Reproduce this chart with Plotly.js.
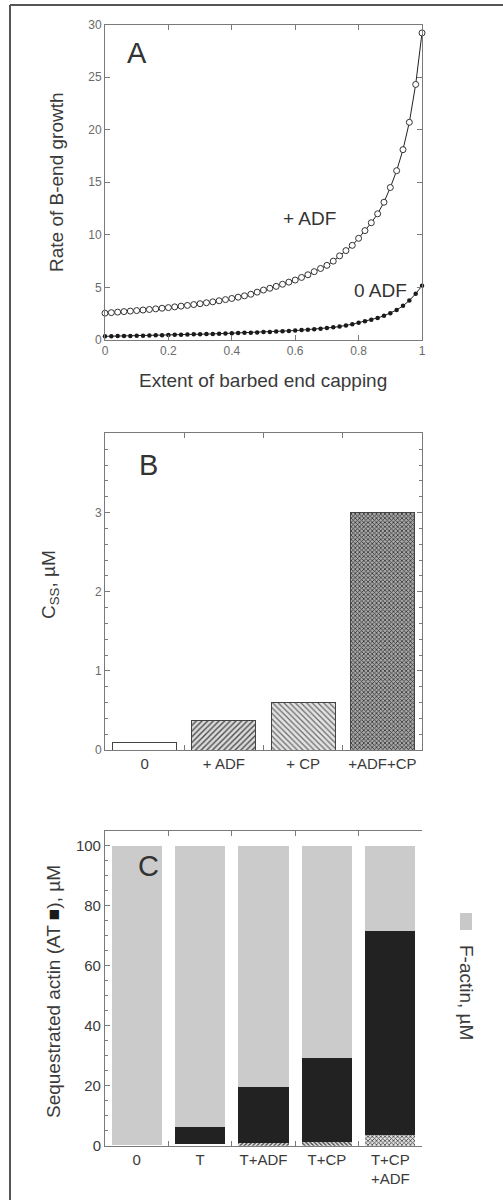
<!DOCTYPE html>
<html>
<head>
<meta charset="utf-8">
<script src="https://cdn.plot.ly/plotly-3.0.1.min.js"></script>
<style>html,body{margin:0;padding:0;background:#fff;}#chart{width:503px;height:1200px;}</style>
</head>
<body>
<div id="chart"></div>
<script>
// ---------- Panel A data ----------
const cappingExtent = [0,0.02,0.04,0.06,0.08,0.10,0.12,0.14,0.16,0.18,0.20,0.22,0.24,0.26,0.28,0.30,0.32,0.34,0.36,0.38,0.40,0.42,0.44,0.46,0.48,0.50,0.52,0.54,0.56,0.58,0.60,0.62,0.64,0.66,0.68,0.70,0.72,0.74,0.76,0.78,0.80,0.82,0.84,0.86,0.88,0.90,0.92,0.94,0.96,0.98,1.00];
const rateWithADF = [2.55,2.6,2.65,2.7,2.75,2.8,2.85,2.9,2.96,3.02,3.08,3.15,3.22,3.29,3.37,3.45,3.54,3.63,3.73,3.84,3.95,4.07,4.2,4.35,4.55,4.75,4.92,5.1,5.3,5.5,5.7,5.95,6.2,6.5,6.8,7.1,7.5,8.0,8.5,9.0,9.67,10.4,11.15,12.0,13.1,14.5,16.1,18.1,20.7,24.3,29.2];
const rateNoADF = [0.35,0.36,0.37,0.38,0.39,0.4,0.41,0.43,0.44,0.46,0.48,0.49,0.51,0.52,0.54,0.55,0.57,0.58,0.6,0.62,0.64,0.66,0.68,0.7,0.72,0.75,0.77,0.8,0.83,0.86,0.9,0.94,0.98,1.03,1.08,1.14,1.2,1.28,1.37,1.5,1.65,1.78,1.92,2.1,2.3,2.55,2.85,3.25,3.75,4.4,5.15];
const xTicksA = [0,0.2,0.4,0.6,0.8,1];
const xTickTextA = ['0','0.2','0.4','0.6','0.8','1'];
const yTicksA = [0,5,10,15,20,25,30];

// ---------- Panel B data ----------
const condB = ['0','+ ADF','+ CP','+ADF+CP'];
const cssB = [0.1,0.37,0.6,3.0];
const yTicksB = [0,1,2,3];

// ---------- Panel C data ----------
const condC = ['0','T','T+ADF','T+CP','T+CP<br>+ADF'];
const monomerC = [0.1,0.5,0.9,1.4,3.6];
const sequestC = [0,5.6,18.6,27.9,68.1];
const factinC = [99.9,93.9,80.5,70.7,28.3];
const yTicksC = [0,20,40,60,80,100];

const FONT = 'Liberation Sans, Arial, Helvetica, sans-serif';
const AXC = '#7a7a7a';
const XD = [0.2087, 0.8390];

const bStyles = [
  {shape:'',  fg:'#444', bg:'#ffffff', size:8, sol:0.3},
  {shape:'/', fg:'#4a4a4a', bg:'#dcdcdc', size:4, sol:0.35},
  {shape:'\\', fg:'#6a6a6a', bg:'#e4e4e4', size:4, sol:0.32},
  {shape:'x', fg:'#333', bg:'#a8a8a8', size:3, sol:0.45}
];

const traces = [
  {x: cappingExtent, y: rateWithADF, type:'scatter', mode:'lines+markers', xaxis:'x', yaxis:'y',
   line:{color:'#222', width:1}, marker:{symbol:'circle', size:6, color:'#fff', line:{color:'#333', width:1}},
   cliponaxis:false, showlegend:false, name:'+ ADF'},
  {x: cappingExtent, y: rateNoADF, type:'scatter', mode:'lines+markers', xaxis:'x', yaxis:'y',
   line:{color:'#222', width:1}, marker:{symbol:'circle', size:4.5, color:'#1a1a1a'},
   cliponaxis:false, showlegend:false, name:'0 ADF'}
];
condB.forEach((c, i) => {
  const s = bStyles[i];
  const mk = {color:'#ffffff', line:{color:'#444', width:1}};
  if (s.shape) mk.pattern = {shape:s.shape, fgcolor:s.fg, bgcolor:s.bg, size:s.size, solidity:s.sol};
  traces.push({x:[c], y:[cssB[i]], type:'bar', xaxis:'x2', yaxis:'y2', width:0.81, showlegend:false, name:c, marker:mk});
});
traces.push(
  {x: condC, y: monomerC, type:'bar', xaxis:'x3', yaxis:'y3', width:0.79, showlegend:false, name:'monomer',
   marker:{color:'#ffffff', line:{width:0},
     pattern:{shape:['','','/','\\','x'], fgcolor:'#444', bgcolor:'#e0e0e0', size:3, solidity:0.45}}},
  {x: condC, y: sequestC, type:'bar', xaxis:'x3', yaxis:'y3', width:0.79, showlegend:false, name:'sequestrated',
   marker:{color:'#222222', line:{width:0}}},
  {x: condC, y: factinC, type:'bar', xaxis:'x3', yaxis:'y3', width:0.79, showlegend:false, name:'F-actin',
   marker:{color:'#cbcbcb', line:{width:0}}}
);

function axBase(extra){
  return Object.assign({showline:true, linecolor:AXC, linewidth:1, ticks:'inside', ticklen:5,
    tickcolor:AXC, tickwidth:1, showgrid:false, zeroline:false, fixedrange:true,
    tickfont:{family:FONT, size:12, color:'#6a6a6a'}}, extra);
}

const layout = {
  width:503, height:1200, margin:{l:0,r:0,t:0,b:0}, paper_bgcolor:'#fff', plot_bgcolor:'rgba(0,0,0,0)',
  barmode:'stack', bargap:0.2, font:{family:FONT, color:'#333'},
  xaxis: axBase({domain:XD, anchor:'y', range:[0,1], tickvals:xTicksA, ticktext:xTickTextA, mirror:'ticks'}),
  yaxis: axBase({domain:[0.71667,0.97958], anchor:'x', range:[0,30], tickvals:yTicksA, mirror:'ticks'}),
  xaxis2: axBase({domain:XD, anchor:'y2', type:'category', categoryarray:condB, categoryorder:'array', range:[-0.5,3.5], tickson:'boundaries', mirror:'ticks',
    tickfont:{family:FONT, size:15, color:'#3a3a3a'}}),
  yaxis2: axBase({domain:[0.375,0.63889], anchor:'x2', range:[0,4], tickvals:yTicksB, mirror:'ticks',
    minor:{tickvals:[0.2,0.4,0.6,0.8,1.2,1.4,1.6,1.8,2.2,2.4,2.6,2.8,3.2,3.4,3.6,3.8], ticks:'inside', ticklen:3, tickcolor:AXC}}),
  xaxis3: axBase({domain:XD, anchor:'y3', type:'category', range:[-0.5,4.5], tickson:'boundaries', mirror:'ticks',
    tickfont:{family:FONT, size:15, color:'#3a3a3a'}}),
  yaxis3: axBase({domain:[0.04525,0.3075], anchor:'x3', range:[0,105], tickvals:yTicksC,
    tickfont:{family:FONT, size:15, color:'#3a3a3a'},
    minor:{dtick:5, ticks:'inside', ticklen:3, tickcolor:AXC}}),
  yaxis4: axBase({domain:[0.04525,0.3075], anchor:'x3', overlaying:'y3', side:'right', range:[0,105], tickvals:yTicksC,
    tickfont:{family:FONT, size:15, color:'#3a3a3a'},
    minor:{dtick:5, ticks:'inside', ticklen:3, tickcolor:AXC}}),
  shapes:[
    {type:'line', xref:'paper', yref:'paper', x0:10/503, x1:1, y0:1-5/1200, y1:1-5/1200, line:{color:'#555', width:2}},
    {type:'line', xref:'paper', yref:'paper', x0:10/503, x1:10/503, y0:0, y1:1-5/1200, line:{color:'#555', width:2}},
    {type:'rect', xref:'paper', yref:'paper', x0:460/503, x1:472/503, y0:1-930/1200, y1:1-913/1200, line:{width:0}, fillcolor:'#c8c8c8'}
  ],
  annotations:[
    {text:'A', xref:'x', yref:'y', x:0.102, y:27.3, showarrow:false, font:{family:FONT, size:29, color:'#333'}},
    {text:'+ ADF', xref:'x', yref:'y', x:0.646, y:11.6, showarrow:false, font:{family:FONT, size:19, color:'#333'}},
    {text:'0 ADF', xref:'x', yref:'y', x:0.868, y:4.75, showarrow:false, font:{family:FONT, size:19, color:'#333'}},
    {text:'Rate of B-end growth', xref:'paper', yref:'paper', x:57/503, y:1-182/1200, textangle:-90, showarrow:false,
     xanchor:'center', yanchor:'middle', font:{family:FONT, size:19, color:'#3a3a3a'}},
    {text:'Extent of barbed end capping', xref:'paper', yref:'paper', x:263/503, y:1-380/1200, showarrow:false,
     xanchor:'center', yanchor:'middle', font:{family:FONT, size:19, color:'#3a3a3a'}},
    {text:'B', xref:'paper', yref:'paper', x:137/503, y:1-465/1200, showarrow:false, font:{family:FONT, size:29, color:'#333'}},
    {text:'C<sub>SS</sub>, µM', xref:'paper', yref:'paper', x:50/503, y:1-585/1200, textangle:-90, showarrow:false,
     xanchor:'center', yanchor:'middle', font:{family:FONT, size:19, color:'#3a3a3a'}},
    {text:'C', xref:'paper', yref:'paper', x:136/503, y:1-884/1200, showarrow:false, font:{family:FONT, size:29, color:'#333'}},
    {text:'Sequestrated actin (AT <span style="color:#1a1a1a">■</span>), µM', xref:'paper', yref:'paper', x:53/503, y:1-992/1200,
     textangle:-90, showarrow:false, xanchor:'center', yanchor:'middle', font:{family:FONT, size:19, color:'#3a3a3a'}},
    {text:'F-actin, µM', xref:'paper', yref:'paper', x:467/503, y:1-992/1200,
     textangle:90, showarrow:false, xanchor:'center', yanchor:'middle', font:{family:FONT, size:19, color:'#3a3a3a'}}
  ]
};

Plotly.newPlot('chart', traces, layout, {staticPlot:true, displayModeBar:false});
</script>
</body>
</html>
